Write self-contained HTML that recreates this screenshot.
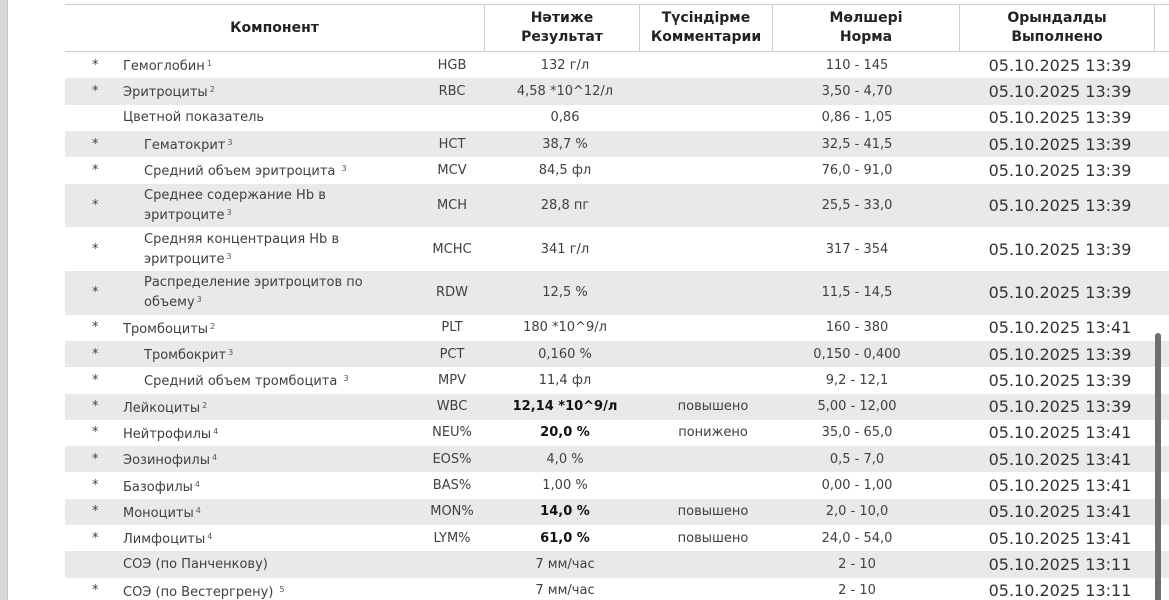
<!DOCTYPE html>
<html><head><meta charset="utf-8">
<style>
html,body{margin:0;padding:0;width:1169px;height:600px;overflow:hidden;background:#fff;}
body{font-family:"DejaVu Sans","Liberation Sans",sans-serif;color:#404040;position:relative;}
#leftbar{position:absolute;left:0;top:0;width:7px;height:600px;background:#d9d9d9;border-right:1px solid #c4c4c4;}
#header{position:absolute;left:65px;top:4px;width:1110px;height:48px;border:1px solid #cfcfcf;border-left:none;box-sizing:border-box;background:#fff;}
.hc{position:absolute;top:0;height:46px;display:flex;align-items:center;justify-content:center;text-align:center;font-weight:bold;font-size:14px;line-height:19px;color:#222;border-right:1px solid #cfcfcf;box-sizing:border-box;}
.row{position:absolute;left:65px;width:1104px;}
.shade{background:#e9e9e9;}
.c{position:absolute;top:0;height:100%;display:flex;align-items:center;font-size:13px;white-space:nowrap;}
.ctr{justify-content:center;transform:translateX(-50%);}
.c.nm{line-height:17px;white-space:normal;}
sup{font-size:8px;vertical-align:4px;color:#555;margin-left:2px;}
.dt{font-size:16px;color:#333;}
#scroll{position:absolute;left:1155px;top:333px;width:6px;height:280px;background:#6e6e6e;border-radius:3px;}
</style></head>
<body>
<div id="leftbar"></div>
<div id="header">
  <div class="hc" style="left:0;width:420px">Компонент</div>
  <div class="hc" style="left:420px;width:155px">Нәтиже<br>Результат</div>
  <div class="hc" style="left:575px;width:133px">Түсіндірме<br>Комментарии</div>
  <div class="hc" style="left:708px;width:187px">Мөлшері<br>Норма</div>
  <div class="hc" style="left:895px;width:195px">Орындалды<br>Выполнено</div>
</div>
<div id="rows"></div>
<div id="scroll"></div>
<script>
const names=["Гемоглобин","Эритроциты","Цветной показатель","Гематокрит","Средний объем эритроцита ","Среднее содержание Hb в эритроците","Средняя концентрация Hb в эритроците","Распределение эритроцитов по объему","Тромбоциты","Тромбокрит","Средний объем тромбоцита ","Лейкоциты","Нейтрофилы","Эозинофилы","Базофилы","Моноциты","Лимфоциты","СОЭ (по Панченкову)","СОЭ (по Вестергрену) "];
const sups=["1","2","","3","3","3","3","3","2","3","3","2","4","4","4","4","4","","5"];
const indent=[0,0,0,1,1,1,1,1,0,1,1,0,0,0,0,0,0,0,0];
const stars=[1,1,0,1,1,1,1,1,1,1,1,1,1,1,1,1,1,0,1];
const codes=["HGB","RBC","","HCT","MCV","MCH","MCHC","RDW","PLT","PCT","MPV","WBC","NEU%","EOS%","BAS%","MON%","LYM%","",""];
const results=["132 г/л","4,58 *10^12/л","0,86","38,7 %","84,5 фл","28,8 пг","341 г/л","12,5 %","180 *10^9/л","0,160 %","11,4 фл","12,14 *10^9/л","20,0 %","4,0 %","1,00 %","14,0 %","61,0 %","7 мм/час","7 мм/час"];
const bold=[0,0,0,0,0,0,0,0,0,0,0,1,1,0,0,1,1,0,0];
const comments=["","","","","","","","","","","","повышено","понижено","","","повышено","повышено","",""];
const norms=["110 - 145","3,50 - 4,70","0,86 - 1,05","32,5 - 41,5","76,0 - 91,0","25,5 - 33,0","317 - 354","11,5 - 14,5","160 - 380","0,150 - 0,400","9,2 - 12,1","5,00 - 12,00","35,0 - 65,0","0,5 - 7,0","0,00 - 1,00","2,0 - 10,0","24,0 - 54,0","2 - 10","2 - 10"];
const dates=["05.10.2025 13:39","05.10.2025 13:39","05.10.2025 13:39","05.10.2025 13:39","05.10.2025 13:39","05.10.2025 13:39","05.10.2025 13:39","05.10.2025 13:39","05.10.2025 13:41","05.10.2025 13:39","05.10.2025 13:39","05.10.2025 13:39","05.10.2025 13:41","05.10.2025 13:41","05.10.2025 13:41","05.10.2025 13:41","05.10.2025 13:41","05.10.2025 13:11","05.10.2025 13:11"];
const tall=[0,0,0,0,0,1,1,1,0,0,0,0,0,0,0,0,0,0,0];
const root=document.getElementById('rows');
let y=52;
function cell(parent,cls,left,html,w){
  const d=document.createElement('div');
  d.className='c '+cls;
  d.style.left=left+'px';
  if(w) d.style.width=w+'px';
  d.innerHTML=html;
  parent.appendChild(d);
  return d;
}
for(let i=0;i<names.length;i++){
  const h=tall[i]?43.7:26.3;
  const r=document.createElement('div');
  r.className='row'+(i%2===1?' shade':'');
  
  
  r.style.top=y+'px';r.style.height=h+'px';
  root.appendChild(r);
  if(stars[i]){const s=cell(r,'',27,'*');
    
    }
  const n=cell(r,'nm',indent[i]?79:58,'<span>'+names[i]+(sups[i]?'<sup>'+sups[i]+'</sup>':'')+'</span>',tall[i]?235:330);
  
  
  const c=cell(r,'ctr',387,codes[i]);
  
  
  const v=cell(r,'ctr',500,results[i]);
  if(bold[i]){v.style.fontWeight='bold';v.style.color='#111';}
  
  
  const cm=cell(r,'ctr',648,comments[i]);
  
  
  const nr=cell(r,'ctr',792,norms[i]);
  
  
  const d=cell(r,'ctr dt',995,dates[i]);
  
  
  y+=h;
}
</script>
</body></html>
